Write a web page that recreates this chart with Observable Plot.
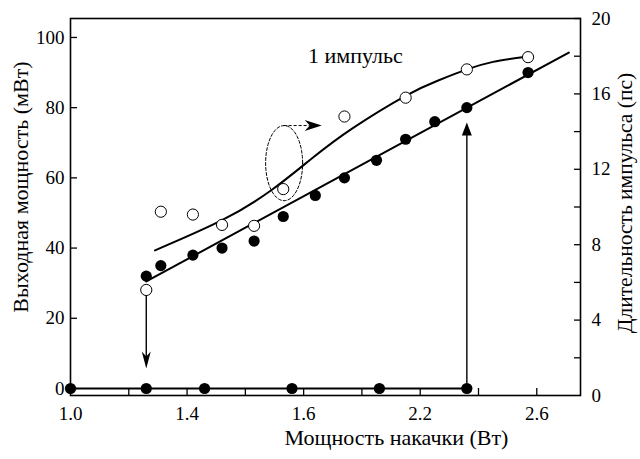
<!DOCTYPE html>
<html>
<head>
<meta charset="utf-8">
<script src="https://cdn.jsdelivr.net/npm/d3@7"></script>
<script src="https://cdn.jsdelivr.net/npm/@observablehq/plot@0.6"></script>
<style>
  body { margin: 0; background: #fff; }
  svg { display: block; }
</style>
</head>
<body>
<div id="chart"></div>
<script>
// Output power vs pump power (filled circles, left axis, mW)
const pumpFilled = [1.26, 1.31, 1.42, 1.52, 1.63, 1.73, 1.84, 1.94, 2.05, 2.15, 2.25, 2.36, 2.57];
const outputPower = [32, 35, 38, 40, 42, 49, 55, 60, 65, 71, 76, 80, 90];

// Points with no output (zero level)
const pumpZero = [1.0, 1.26, 1.46, 1.76, 2.06, 2.36];
const powerZero = [0, 0, 0, 0, 0, 0];

// Linear fit through the output power
const fitPump = [1.26, 2.71];
const fitPower = [30.5, 95.7];

// Pulse duration (open circles, right axis, ps)
const pumpOpen = [1.26, 1.31, 1.42, 1.52, 1.63, 1.73, 1.94, 2.15, 2.36, 2.57];
const pulseDuration = [5.6, 9.75, 9.6, 9.05, 9.0, 10.95, 14.8, 15.8, 17.3, 17.95];

// Smooth guide curve through the pulse duration
const curvePump = [1.29, 1.52, 1.69, 1.83, 1.97, 2.15, 2.26, 2.36, 2.45, 2.55];
const curveDuration = [7.7, 9.3, 10.9, 12.6, 14.2, 15.9, 16.7, 17.3, 17.7, 17.95];

// Axis ticks
const xTicks = [1.2, 1.4, 1.6, 1.8, 2.0, 2.2, 2.4, 2.6];
const xLabelValues = [1.0, 1.4, 1.8, 2.2, 2.6];
const xTickLabels = ["1.0", "1.4", "1.6", "2.2", "2.6"];
const yLeftTicks = [0, 20, 40, 60, 80, 100];
const yRightTicks = [2, 4, 6, 8, 10, 12, 14, 16, 18, 20];
const yRightLabels = [0, 4, 8, 12, 16, 20];

// Annotations
const seriesLabel = "1 импульс";
const titleX = "Мощность накачки (Вт)";
const titleLeft = "Выходная мощность (мВт)";
const titleRight = "Длительность импульса (пс)";

// Left axis spans [-2, 105.4] mW; right axis spans [0, 20] ps over the same height
const leftDomain = [-2, 105.4];
const rightDomain = [0, 20];
const toLeft = r => leftDomain[0] + (r - rightDomain[0]) * (leftDomain[1] - leftDomain[0]) / (rightDomain[1] - rightDomain[0]);
const fromLeft = l => rightDomain[0] + (l - leftDomain[0]) * (rightDomain[1] - rightDomain[0]) / (leftDomain[1] - leftDomain[0]);

const filled = pumpFilled.map((x, i) => ({x, y: outputPower[i]}));
const zero = pumpZero.map((x, i) => ({x, y: powerZero[i]}));
const fit = fitPump.map((x, i) => ({x, y: fitPower[i]}));
const open = pumpOpen.map((x, i) => ({x, y: toLeft(pulseDuration[i])}));
const curve = curvePump.map((x, i) => ({x, y: toLeft(curveDuration[i])}));
const xLabelMap = new Map(xLabelValues.map((v, i) => [v, xTickLabels[i]]));

// Dashed ellipse marking the pulse-duration points, with an arrow pointing to the right axis
const ellipseCenter = {x: 1.733, y: 64.2};
const ellipseRadius = {x: 0.0635, y: 10.7};
const ellipse = d3.range(0, 73).map(k => {
  const t = (k / 72) * 2 * Math.PI;
  return {x: ellipseCenter.x + ellipseRadius.x * Math.cos(t), y: ellipseCenter.y + ellipseRadius.y * Math.sin(t)};
});
const pointerArrow = [{x1: ellipseCenter.x, x2: 1.862, y: ellipseCenter.y + ellipseRadius.y}];

// Vertical arrows: jump down at threshold, jump up at the upper end
const downArrow = [{x: 1.26, y1: 26.5, y2: 5.7}];
const upArrow = [{x: 2.36, y1: 0, y2: 75.8}];

// Arrowhead shapes, tip at the origin
const headUp = {draw(c) { c.moveTo(0, 0); c.lineTo(5, 13); c.lineTo(-5, 13); c.closePath(); }};
const headDown = {draw(c) { c.moveTo(0, 0); c.lineTo(-4.5, -17); c.lineTo(0, -12); c.lineTo(4.5, -17); c.closePath(); }};
const headRight = {draw(c) { c.moveTo(0, 0); c.lineTo(-17, -5.5); c.lineTo(-12, 0); c.lineTo(-17, 5.5); c.closePath(); }};

const font = "Liberation Serif";

const chart = Plot.plot({
  width: 640,
  height: 459,
  marginLeft: 70,
  marginRight: 60,
  marginTop: 18,
  marginBottom: 64,
  style: {fontFamily: font, fontSize: "19px", color: "black", background: "white"},
  x: {domain: [1.0, 2.75], axis: null},
  y: {domain: leftDomain, axis: null},
  marks: [
    // bottom axis
    Plot.axisX(xTicks, {anchor: "bottom", tickSize: -7, strokeWidth: 1.3, tickFormat: () => ""}),
    Plot.axisX(xLabelValues, {anchor: "bottom", tickSize: 0, tickPadding: 11, fontSize: 19, fontFamily: font, tickFormat: d => xLabelMap.get(d)}),
    // left axis
    Plot.axisY(yLeftTicks, {anchor: "left", tickSize: -7, strokeWidth: 1.3, tickFormat: () => ""}),
    Plot.axisY(yLeftTicks, {anchor: "left", tickSize: 0, tickPadding: 6, fontSize: 19, fontFamily: font}),
    // right axis (pulse duration)
    Plot.axisY(yRightTicks.map(toLeft), {anchor: "right", tickSize: -7, strokeWidth: 1.3, tickFormat: () => ""}),
    Plot.axisY(yRightLabels.map(toLeft), {anchor: "right", tickSize: 0, tickPadding: 11, fontSize: 19, fontFamily: font, tickFormat: v => String(Math.round(fromLeft(v)))}),
    Plot.frame({stroke: "black", strokeWidth: 1.6}),

    // zero-output level
    Plot.line(zero, {x: "x", y: "y", stroke: "black", strokeWidth: 2}),
    // linear fit and guide curve
    Plot.line(fit, {x: "x", y: "y", stroke: "black", strokeWidth: 2}),
    Plot.line(curve, {x: "x", y: "y", stroke: "black", strokeWidth: 2, curve: "natural"}),

    // threshold arrows
    Plot.ruleX(downArrow, {x: "x", y1: "y1", y2: d => d.y2 + 2, stroke: "black", strokeWidth: 1.4}),
    Plot.dot(downArrow, {x: "x", y: "y2", symbol: headDown, r: 5, fill: "black", stroke: "none"}),
    Plot.ruleX(upArrow, {x: "x", y1: "y1", y2: d => d.y2 - 2, stroke: "black", strokeWidth: 1.4}),
    Plot.dot(upArrow, {x: "x", y: "y2", symbol: headUp, r: 5, fill: "black", stroke: "none"}),

    // ellipse with dashed pointer
    Plot.line(ellipse, {x: "x", y: "y", stroke: "black", strokeWidth: 1, strokeDasharray: "3,2"}),
    Plot.ruleY(pointerArrow, {y: "y", x1: "x1", x2: d => d.x2 - 0.04, stroke: "black", strokeWidth: 1, strokeDasharray: "3,2"}),
    Plot.dot(pointerArrow, {x: "x2", y: "y", symbol: headRight, r: 5, fill: "black", stroke: "none"}),

    // data points
    Plot.dot(filled, {x: "x", y: "y", r: 5.6, fill: "black", stroke: "none"}),
    Plot.dot(zero, {x: "x", y: "y", r: 5.6, fill: "black", stroke: "none"}),
    Plot.dot(open, {x: "x", y: "y", r: 5.6, fill: "white", stroke: "black", strokeWidth: 1}),

    // labels
    Plot.text([seriesLabel], {x: 1.815, y: 94.7, text: d => d, textAnchor: "start", fontSize: 22, fontFamily: font}),
    Plot.text([titleX], {frameAnchor: "bottom-left", dx: 214, dy: 49, text: d => d, textAnchor: "start", fontSize: 22, fontFamily: font}),
    Plot.text([titleLeft], {frameAnchor: "left", dx: -50, dy: -20, rotate: -90, text: d => d, textAnchor: "middle", fontSize: 22, fontFamily: font}),
    Plot.text([titleRight], {frameAnchor: "right", dx: 45, dy: -4, rotate: -90, text: d => d, textAnchor: "middle", fontSize: 21.5, fontFamily: font})
  ]
});

document.getElementById("chart").append(chart);
</script>
</body>
</html>
